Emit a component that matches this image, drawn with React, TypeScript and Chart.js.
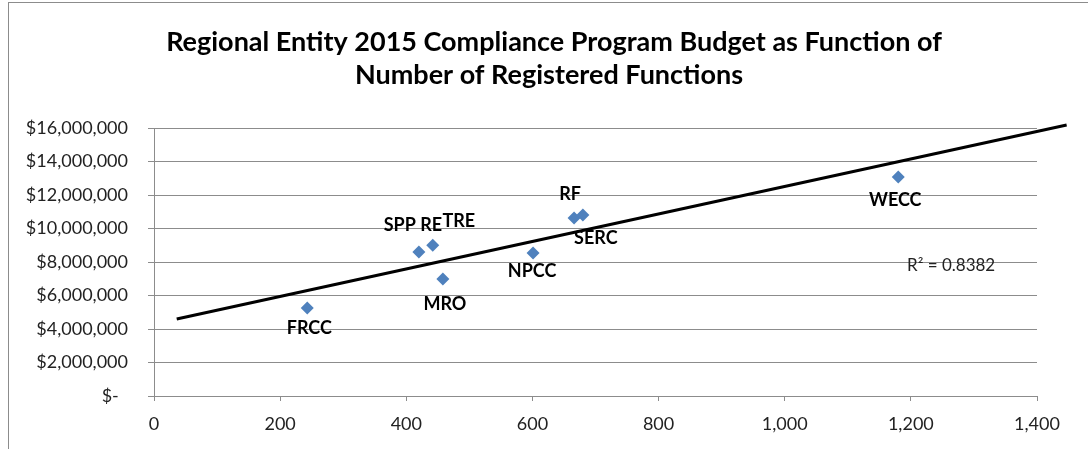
import React, { useEffect, useRef } from "react";
import { Chart, registerables } from "chart.js";

Chart.register(...registerables);

const entities = ["FRCC", "SPP RE", "TRE", "MRO", "NPCC", "RF", "SERC", "WECC"];
const functionsCount = [243, 420, 442, 458, 601, 666, 680, 1180];
const budgets = [5250000, 8600000, 9000000, 6990000, 8540000, 10630000, 10800000, 13070000];
const trendX = [36, 1447];
const trendY = [4600000, 16180000];
const rSquaredText = "R² = 0.8382";
const titleLines = ["Regional Entity 2015 Compliance Program Budget as Function of", "Number of Registered Functions"];
const xTicks = [0, 200, 400, 600, 800, 1000, 1200, 1400];
const yTicks = [0, 2000000, 4000000, 6000000, 8000000, 10000000, 12000000, 14000000, 16000000];

// label placement offsets (px) relative to each point
const labelOffsets: [number, number][] = [
  [2, 20],
  [-6, -27],
  [26, -24],
  [2, 25],
  [-1, 18],
  [-4, -24],
  [13, 23],
  [-3, 23],
];

const FONT = "Lato, 'Open Sans', sans-serif";

export default function App() {
  const ref = useRef<HTMLCanvasElement | null>(null);
  useEffect(() => {
    if (!ref.current) return;
    const decorPlugin = {
      id: "decor",
      beforeDraw(chart: any) {
        const ctx = chart.ctx;
        ctx.save();
        ctx.fillStyle = "#ffffff";
        ctx.fillRect(0, 0, chart.width, chart.height);
        ctx.strokeStyle = "#8c8c8c";
        ctx.lineWidth = 1;
        ctx.strokeRect(8.5, 2.5, 1200, 600);
        ctx.fillStyle = "#000";
        ctx.font = `bold 27px ${FONT}`;
        ctx.textAlign = "center";
        ctx.textBaseline = "middle";
        ctx.fillText(titleLines[0], 554, 42);
        ctx.fillText(titleLines[1], 549, 75);
        ctx.restore();
      },
      afterDatasetsDraw(chart: any) {
        const ctx = chart.ctx;
        const meta = chart.getDatasetMeta(1);
        ctx.save();
        ctx.fillStyle = "#000";
        ctx.font = `bold 18px ${FONT}`;
        ctx.textAlign = "center";
        ctx.textBaseline = "middle";
        meta.data.forEach((pt: any, i: number) => {
          const [dx, dy] = labelOffsets[i];
          ctx.fillText(entities[i], pt.x + dx, pt.y + dy);
        });
        ctx.font = `17px ${FONT}`;
        ctx.fillStyle = "#222";
        ctx.textAlign = "left";
        ctx.fillText(rSquaredText, 907, 266);
        ctx.restore();
      },
    };
    const chart = new Chart(ref.current, {
      type: "scatter",
      data: {
        datasets: [
          {
            type: "line",
            data: trendX.map((x, i) => ({ x, y: trendY[i] })),
            borderColor: "#000000",
            borderWidth: 3,
            pointRadius: 0,
            clip: false as any,
            order: 0,
          } as any,
          {
            type: "scatter",
            data: functionsCount.map((x, i) => ({ x, y: budgets[i] })),
            backgroundColor: "#4F81BD",
            borderColor: "#4F81BD",
            borderWidth: 0,
            pointStyle: "rectRot",
            pointRadius: 6.5,
            order: 1,
          },
        ],
      },
      options: {
        responsive: false,
        animation: false,
        layout: { padding: { top: 128, right: 51, left: 0, bottom: 0 } },
        plugins: {
          legend: { display: false },
          tooltip: { enabled: false },
          title: { display: false },
        },
        scales: {
          x: {
            type: "linear",
            min: 0,
            max: 1400,
            afterBuildTicks: (s: any) => {
              s.ticks = xTicks.map((v) => ({ value: v }));
            },
            afterFit: (s: any) => {
              s.height = 53;
            },
            ticks: {
              color: "#222",
              font: { family: FONT, size: 18 },
              padding: 12,
              callback: (v: any) => Number(v).toLocaleString("en-US"),
            },
            grid: {
              drawOnChartArea: false,
              drawTicks: true,
              tickLength: 5,
              color: "#8c8c8c",
            },
            border: { color: "#8c8c8c" },
          },
          y: {
            type: "linear",
            min: 0,
            max: 16000000,
            afterBuildTicks: (s: any) => {
              s.ticks = yTicks.map((v) => ({ value: v }));
            },
            afterFit: (s: any) => {
              s.width = 154;
            },
            ticks: {
              color: "#222",
              font: { family: FONT, size: 18 },
              padding: 20,
              callback: (v: any) => (Number(v) === 0 ? "$-  " : "$" + Number(v).toLocaleString("en-US")),
            },
            grid: {
              color: "#8c8c8c",
              tickLength: 6,
            },
            border: { color: "#8c8c8c" },
          },
        },
      } as any,
      plugins: [decorPlugin],
    });
    return () => chart.destroy();
  }, []);
  return (
    <div style={{ position: "fixed", left: 0, top: 0, width: 1088, height: 449, background: "#fff" }}>
      <canvas ref={ref} width={1088} height={449} style={{ display: "block" }} />
    </div>
  );
}
